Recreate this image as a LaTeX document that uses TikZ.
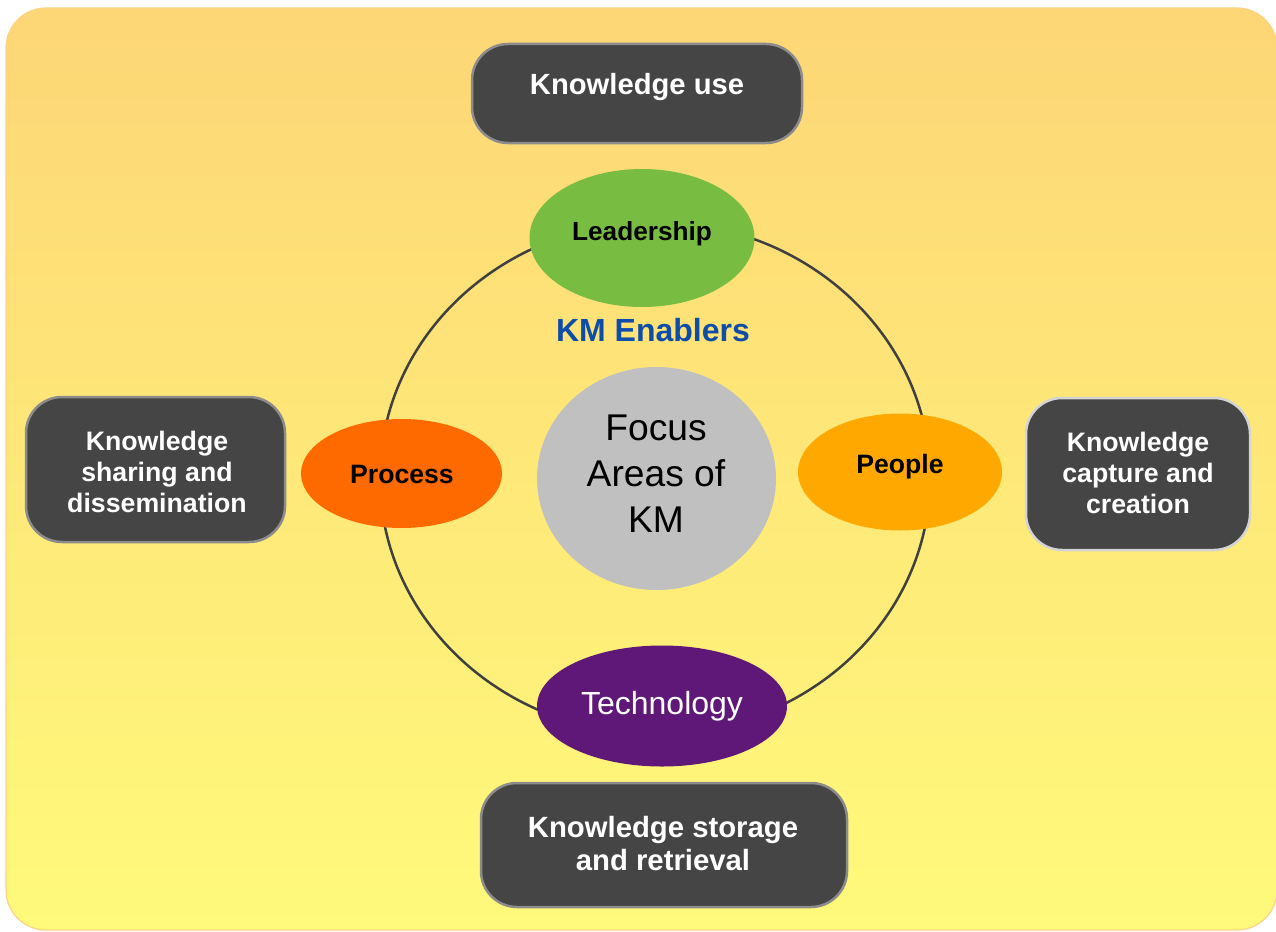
\documentclass[tikz,border=0pt]{standalone}
\usepackage{fontspec}
\setmainfont{Liberation Sans}
\usetikzlibrary{shapes.geometric}
\definecolor{bgtop}{HTML}{FDD676}
\definecolor{bgbot}{HTML}{FFFA7B}
\definecolor{bgedge}{HTML}{FCD384}
\definecolor{boxfill}{HTML}{454545}
\definecolor{boxedge}{HTML}{8C8C8C}
\definecolor{boxedgelight}{HTML}{D4D4D4}
\definecolor{ringcol}{HTML}{404040}
\definecolor{leadcol}{HTML}{78BD42}
\definecolor{proccol}{HTML}{FF6A00}
\definecolor{peopcol}{HTML}{FFA900}
\definecolor{techcol}{HTML}{5F1878}
\definecolor{focuscol}{HTML}{C0C0C0}
\definecolor{enabcol}{HTML}{0D4CA8}
\tikzset{
  kbox/.style={draw=boxedge, line width=2.5pt, fill=boxfill, rounded corners=36pt, inner sep=0pt},
  ktext/.style={text=white, font=\bfseries\fontsize{26.7}{31}\selectfont, align=center, inner sep=0pt},
  enab/.style={ellipse, inner sep=0pt},
  etext/.style={text=black, font=\bfseries\fontsize{26.6}{31}\selectfont, inner sep=0pt},
}
\begin{document}
\begin{tikzpicture}[x=1pt,y=-1pt]
\useasboundingbox (0,0) rectangle (1276,931);
% background panel
\shade[top color=bgtop, bottom color=bgbot, rounded corners=40pt] (6,8) rectangle (1277,930);
\draw[bgedge, line width=1.2pt, rounded corners=40pt] (6,8) rectangle (1277,930);
% ring
\node[draw=ringcol, line width=2.5pt, ellipse, minimum width=550pt, minimum height=512pt, inner sep=0pt] (ring) at (655,478) {};
% outer boxes
\node[kbox, minimum width=330pt, minimum height=99pt] (use) at (637,93.5) {};
\node[ktext, font=\bfseries\fontsize{29.2}{33}\selectfont] (uset) at (637,87.5) {Knowledge use};
\node[kbox, minimum width=259pt, minimum height=145pt] (share) at (155.5,469.5) {};
\node[ktext] (sharet) at (157,471.5) {Knowledge\\sharing and\\dissemination};
\node[kbox, draw=boxedgelight, minimum width=224pt, minimum height=152pt] (capt) at (1138,474) {};
\node[ktext] (captt) at (1138,473) {Knowledge\\capture and\\creation};
\node[kbox, minimum width=366pt, minimum height=124pt] (store) at (664,845) {};
\node[ktext, font=\bfseries\fontsize{29.3}{33}\selectfont] (storet) at (663,844) {Knowledge storage\\and retrieval};
% enablers
\node[enab, fill=leadcol, minimum width=225pt, minimum height=138pt] (lead) at (642,238) {};
\node[etext, font=\bfseries\fontsize{26.2}{30}\selectfont] (leadt) at (642,233.5) {Leadership};
\node[enab, fill=proccol, minimum width=201pt, minimum height=109pt] (proc) at (401.5,473.5) {};
\node[etext] (proct) at (402,474) {Process};
\node[enab, fill=peopcol, minimum width=204pt, minimum height=117pt] (peop) at (900,472) {};
\node[etext] (peopt) at (900,466.5) {People};
\node[enab, fill=techcol, minimum width=250pt, minimum height=121pt] (tech) at (662,706) {};
\node[text=white, font=\fontsize{32}{36}\selectfont, inner sep=0pt] (techt) at (662,706.5) {Technology};
% centre
\node[enab, fill=focuscol, minimum width=239pt, minimum height=223pt] (focus) at (656.5,478.5) {};
\node[text=black, font=\fontsize{37.2}{46}\selectfont, align=center, inner sep=0pt] (focust) at (656,474) {Focus\\Areas of\\KM};
\node[text=enabcol, font=\bfseries\fontsize{32}{36}\selectfont, inner sep=0pt] (enabt) at (653,330) {KM Enablers};
\end{tikzpicture}
\end{document}
